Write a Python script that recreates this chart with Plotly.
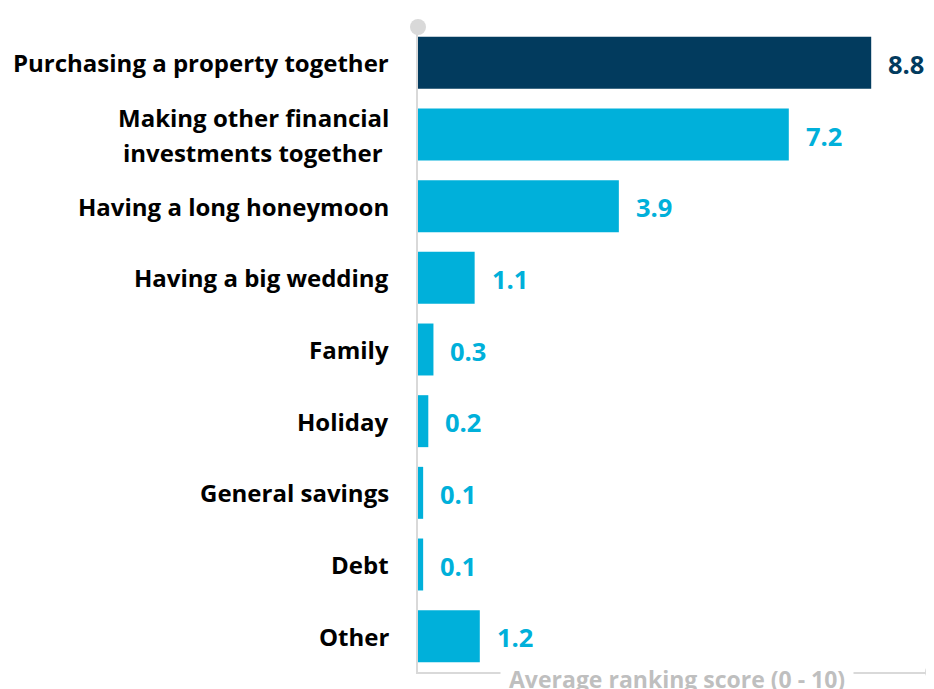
import plotly.graph_objects as go

categories = [
    "Purchasing a property together",
    "Making other financial<br>investments together\u00a0",
    "Having a long honeymoon",
    "Having a big wedding",
    "Family",
    "Holiday",
    "General savings",
    "Debt",
    "Other",
]
values = [8.8, 7.2, 3.9, 1.1, 0.3, 0.2, 0.1, 0.1, 1.2]
value_labels = ["8.8", "7.2", "3.9", "1.1", "0.3", "0.2", "0.1", "0.1", "1.2"]
highlight = "Purchasing a property together"
axis_title = "Average ranking score (0 - 10)"

DARK = "#023B5E"
LIGHT = "#00B0DA"
AXIS = "#D9D9D9"
FONT = "'Open Sans', sans-serif"

colors = [DARK if c == highlight else LIGHT for c in categories]
ids = list(range(len(categories)))

fig = go.Figure()
fig.add_trace(go.Bar(
    y=ids, x=values, orientation="h",
    marker=dict(color=colors, line=dict(width=0)),
    hoverinfo="skip",
))

annotations = []
# value labels
for i, (v, t, c) in enumerate(zip(values, value_labels, colors)):
    annotations.append(dict(
        x=v, y=i, xref="x", yref="y", text=f"<b>{t}</b>",
        showarrow=False, xanchor="left", yanchor="middle", xshift=15, yshift=-1,
        font=dict(family=FONT, size=25.5, color=c),
    ))
# category labels
LINE_GAP = 35
for i, cat in enumerate(categories):
    lines = cat.split("<br>")
    n = len(lines)
    for j, ln in enumerate(lines):
        shift = ((n - 1) / 2 - j) * LINE_GAP
        annotations.append(dict(
            x=0, y=i, xref="paper", yref="y", text=f"<b>{ln}</b>",
            showarrow=False, xanchor="right", yanchor="middle",
            xshift=-27, yshift=shift,
            font=dict(family=FONT, size=24, color="#000000"),
        ))
# axis title with white background interrupting the axis line
annotations.append(dict(
    x=0.502, y=0, xref="paper", yref="paper", text=f"<b>{axis_title}</b>",
    showarrow=False, xanchor="center", yanchor="middle", yshift=-7,
    bgcolor="white", borderpad=8,
    font=dict(family=FONT, size=23, color="#BFBFBF"),
))

shapes = [
    dict(type="circle", xref="paper", yref="paper", xsizemode="pixel", ysizemode="pixel",
         xanchor=0, yanchor=1, x0=-8, x1=8, y0=-8, y1=8,
         fillcolor=AXIS, line=dict(width=0), layer="above"),
    dict(type="circle", xref="paper", yref="paper", xsizemode="pixel", ysizemode="pixel",
         xanchor=1, yanchor=0, x0=-8, x1=8, y0=-8, y1=8,
         fillcolor=AXIS, line=dict(width=0), layer="above"),
]

# page body has an 8px default margin, so the figure is sized to fit the 934x689 window
fig.update_layout(
    width=926, height=681,
    margin=dict(l=410, r=1, t=19, b=17),
    paper_bgcolor="white", plot_bgcolor="white",
    showlegend=False,
    bargap=0.275,
    annotations=annotations,
    shapes=shapes,
    xaxis=dict(range=[0, 10], showgrid=False, zeroline=False, showticklabels=False,
               ticks="", showline=True, linecolor=AXIS, linewidth=2),
    yaxis=dict(range=[len(categories) - 0.5, -0.5], showgrid=False, zeroline=False,
               showticklabels=False, ticks="", showline=True, linecolor=AXIS, linewidth=2),
)

fig.write_html("out.html")
